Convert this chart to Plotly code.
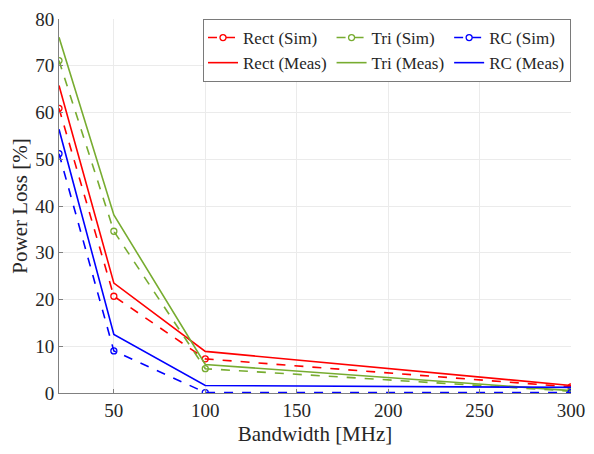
import plotly.graph_objects as go

bandwidth = [20, 50, 100, 300]
rect_sim = [60.9, 20.7, 7.3, 1.3]
tri_sim = [71.1, 34.6, 5.2, 0.4]
rc_sim = [51.2, 9.0, 0.1, 0.1]
rect_meas = [65.8, 23.5, 8.9, 1.6]
tri_meas = [76.1, 38.1, 6.1, 0.5]
rc_meas = [56.4, 12.5, 1.6, 1.2]

x_ticks = [50, 100, 150, 200, 250, 300]
y_ticks = [0, 10, 20, 30, 40, 50, 60, 70, 80]

RED = "#FF0000"
GREEN = "#77AC30"
BLUE = "#0000FF"

FF = "Liberation Serif"

fig = go.Figure()

series = [
    ("Rect (Sim)", rect_sim, RED, "rect", True),
    ("Rect (Meas)", rect_meas, RED, "rect", False),
    ("Tri (Sim)", tri_sim, GREEN, "tri", True),
    ("Tri (Meas)", tri_meas, GREEN, "tri", False),
    ("RC (Sim)", rc_sim, BLUE, "rc", True),
    ("RC (Meas)", rc_meas, BLUE, "rc", False),
]

for name, vals, color, grp, sim in series:
    if sim:
        fig.add_trace(go.Scatter(
            x=bandwidth, y=vals, name=name, legendgroup=grp,
            mode="lines+markers",
            line=dict(color=color, width=1.6, dash="dash"),
            marker=dict(symbol="circle-open", size=6, color=color, line=dict(width=1.3, color=color)),
        ))
    else:
        fig.add_trace(go.Scatter(
            x=bandwidth, y=vals, name=name, legendgroup=grp,
            mode="lines",
            line=dict(color=color, width=1.6),
        ))

# page body has an 8px margin, so the figure is sized to fit the 594x454 window
fig.update_layout(
    width=578, height=438,
    margin=dict(l=51, r=15, t=11, b=53, autoexpand=False),
    paper_bgcolor="white", plot_bgcolor="white",
    font=dict(family=FF, color="#262626", size=19),
    showlegend=True,
    legend=dict(
        orientation="h", traceorder="grouped",
        x=1.0, xanchor="right", y=1.0, yanchor="top",
        bgcolor="white", bordercolor="#7a7a7a", borderwidth=1,
        font=dict(family=FF, size=17, color="#262626"),
        tracegroupgap=0, itemwidth=30,
    ),
    xaxis=dict(
        range=[20, 300], tickvals=x_ticks,
        showgrid=True, gridcolor="#ebebeb", gridwidth=1,
        showline=True, linecolor="#808080", linewidth=1,
        ticks="inside", ticklen=4, tickcolor="#808080",
        zeroline=False, automargin=False, ticklabeloverflow="allow",
        tickfont=dict(family=FF, size=19, color="#262626"),
        title=dict(text="Bandwidth [MHz]", font=dict(family=FF, size=21, color="#262626"), standoff=8),
    ),
    yaxis=dict(
        range=[0, 80], tickvals=y_ticks,
        showgrid=True, gridcolor="#ebebeb", gridwidth=1,
        showline=True, linecolor="#808080", linewidth=1,
        ticks="inside", ticklen=4, tickcolor="#808080",
        zeroline=False, automargin=False, ticklabeloverflow="allow",
        tickfont=dict(family=FF, size=19, color="#262626"),
        title=dict(text="Power Loss [%]", font=dict(family=FF, size=21, color="#262626"), standoff=4),
    ),
)

fig.write_html("out.html")
